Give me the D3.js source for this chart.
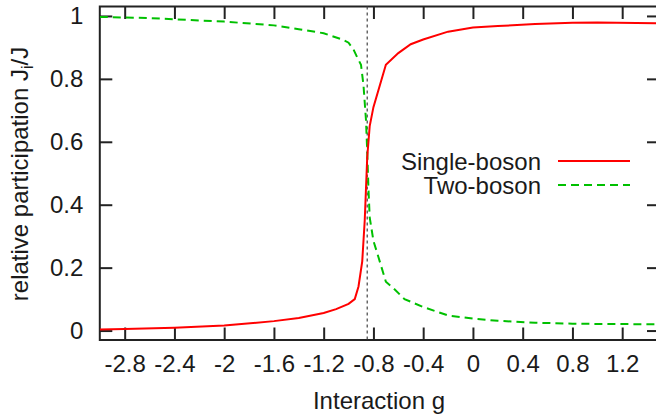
<!DOCTYPE html>
<html>
<head>
<meta charset="utf-8">
<script src="https://cdn.jsdelivr.net/npm/d3@7"></script>
<style>
  html, body { margin: 0; padding: 0; background: #fff; }
  svg { display: block; }
  text { font-family: "Liberation Sans", Arial, Helvetica, sans-serif; fill: #1a1a1a; }
</style>
</head>
<body>
<svg id="chart" width="656" height="420"></svg>
<script>
// Interaction strength g (x) and relative participation of each channel (y)
const singleG = [-3.0, -2.8, -2.4, -2.0, -1.6, -1.4, -1.2, -1.1, -1.0, -0.95, -0.92, -0.89, -0.87, -0.86, -0.85, -0.83, -0.80, -0.70, -0.60, -0.50, -0.40, -0.20, 0.0, 0.2, 0.5, 0.8, 1.0, 1.5];
const singleJ = [0.003, 0.005, 0.009, 0.016, 0.030, 0.040, 0.056, 0.068, 0.085, 0.100, 0.140, 0.220, 0.350, 0.450, 0.550, 0.650, 0.710, 0.845, 0.882, 0.910, 0.925, 0.950, 0.963, 0.968, 0.974, 0.978, 0.979, 0.977];

const twoG = [-3.0, -2.6, -2.0, -1.6, -1.4, -1.2, -1.05, -1.0, -0.96, -0.93, -0.90, -0.88, -0.86, -0.85, -0.84, -0.83, -0.80, -0.76, -0.70, -0.64, -0.55, -0.40, -0.20, 0.0, 0.2, 0.5, 0.8, 1.0, 1.5];
const twoJ = [0.997, 0.993, 0.982, 0.970, 0.958, 0.945, 0.925, 0.915, 0.893, 0.868, 0.845, 0.780, 0.670, 0.570, 0.450, 0.360, 0.285, 0.234, 0.155, 0.135, 0.100, 0.075, 0.048, 0.038, 0.031, 0.025, 0.022, 0.021, 0.020];

// Critical coupling marked by a vertical dashed line
const criticalG = -0.85;

const xTicks = [-2.8, -2.4, -2.0, -1.6, -1.2, -0.8, -0.4, 0, 0.4, 0.8, 1.2];
const xTickLabels = ["-2.8", "-2.4", "-2", "-1.6", "-1.2", "-0.8", "-0.4", "0", "0.4", "0.8", "1.2"];
const yTicks = [0, 0.2, 0.4, 0.6, 0.8, 1];
const yTickLabels = ["0", "0.2", "0.4", "0.6", "0.8", "1"];

const seriesNames = ["Single-boson", "Two-boson"];

const svg = d3.select("#chart");
const plotLeft = 99.8, plotRight = 659.5, plotTop = 6.5, plotBottom = 340;
const fontSize = 24;

const x = d3.scaleLinear().domain([-3, 1.5]).range([plotLeft, plotRight]);
const y = d3.scaleLinear().domain([-0.03, 1.03]).range([plotBottom, plotTop]);

const axisColor = "#222";
const tickLen = 12.5;

// Axes with inward ticks on all four sides
const gx = svg.append("g").attr("transform", `translate(0,${plotBottom})`)
  .call(d3.axisBottom(x).tickValues(xTicks).tickSize(-tickLen).tickPadding(15)
    .tickFormat((d, i) => xTickLabels[i]));
const gxTop = svg.append("g").attr("transform", `translate(0,${plotTop})`)
  .call(d3.axisTop(x).tickValues(xTicks).tickSize(-tickLen).tickFormat(""));
const gy = svg.append("g").attr("transform", `translate(${plotLeft},0)`)
  .call(d3.axisLeft(y).tickValues(yTicks).tickSize(-tickLen).tickPadding(16.5)
    .tickFormat((d, i) => yTickLabels[i]));
const gyRight = svg.append("g").attr("transform", `translate(${plotRight},0)`)
  .call(d3.axisRight(y).tickValues(yTicks).tickSize(-tickLen).tickFormat(""));

[gx, gxTop, gy, gyRight].forEach(g => {
  g.select(".domain").remove();
  g.selectAll(".tick line").attr("stroke", axisColor).attr("stroke-width", 2);
  g.selectAll(".tick text").attr("font-size", fontSize).attr("fill", "#1a1a1a")
    .style("font-family", "'Liberation Sans', Arial, sans-serif");
});

// Plot frame
svg.append("rect")
  .attr("x", plotLeft).attr("y", plotTop)
  .attr("width", plotRight - plotLeft).attr("height", plotBottom - plotTop)
  .attr("fill", "none").attr("stroke", axisColor).attr("stroke-width", 2);

// Vertical marker at the critical coupling
svg.append("line")
  .attr("x1", x(criticalG)).attr("x2", x(criticalG))
  .attr("y1", y(1.03)).attr("y2", y(-0.03))
  .attr("stroke", "#444").attr("stroke-width", 1.2).attr("stroke-dasharray", "3,3");

const line = d3.line().x(d => x(d[0])).y(d => y(d[1]));

svg.append("clipPath").attr("id", "plotClip")
  .append("rect").attr("x", plotLeft).attr("y", plotTop)
  .attr("width", plotRight - plotLeft).attr("height", plotBottom - plotTop);

const plot = svg.append("g").attr("clip-path", "url(#plotClip)");

plot.append("path")
  .datum(d3.zip(twoG, twoJ))
  .attr("d", line)
  .attr("fill", "none").attr("stroke", "#00c000").attr("stroke-width", 2)
  .attr("stroke-dasharray", "8,5");

plot.append("path")
  .datum(d3.zip(singleG, singleJ))
  .attr("d", line)
  .attr("fill", "none").attr("stroke", "#ff0000").attr("stroke-width", 2);

// Legend
const legendTextX = 541, legendLineX1 = 558, legendLineX2 = 630;
const legendRows = [
  { name: seriesNames[0], color: "#ff0000", dash: null, y: 161 },
  { name: seriesNames[1], color: "#00c000", dash: "8,5", y: 185 }
];
legendRows.forEach(r => {
  svg.append("text")
    .attr("x", legendTextX).attr("y", r.y + 8.5)
    .attr("text-anchor", "end").attr("font-size", fontSize)
    .text(r.name);
  svg.append("line")
    .attr("x1", legendLineX1).attr("x2", legendLineX2)
    .attr("y1", r.y).attr("y2", r.y)
    .attr("stroke", r.color).attr("stroke-width", 2)
    .attr("stroke-dasharray", r.dash);
});

// Axis titles
svg.append("text")
  .attr("x", 379).attr("y", 409)
  .attr("text-anchor", "middle").attr("font-size", fontSize)
  .text("Interaction g");

const yTitle = svg.append("text")
  .attr("transform", "translate(28,174) rotate(-90)")
  .attr("text-anchor", "middle").attr("font-size", fontSize);
yTitle.append("tspan").text("relative participation J");
yTitle.append("tspan").attr("font-size", 16).attr("dy", 5).text("i");
yTitle.append("tspan").attr("dy", -5).text("/J");
</script>
</body>
</html>
